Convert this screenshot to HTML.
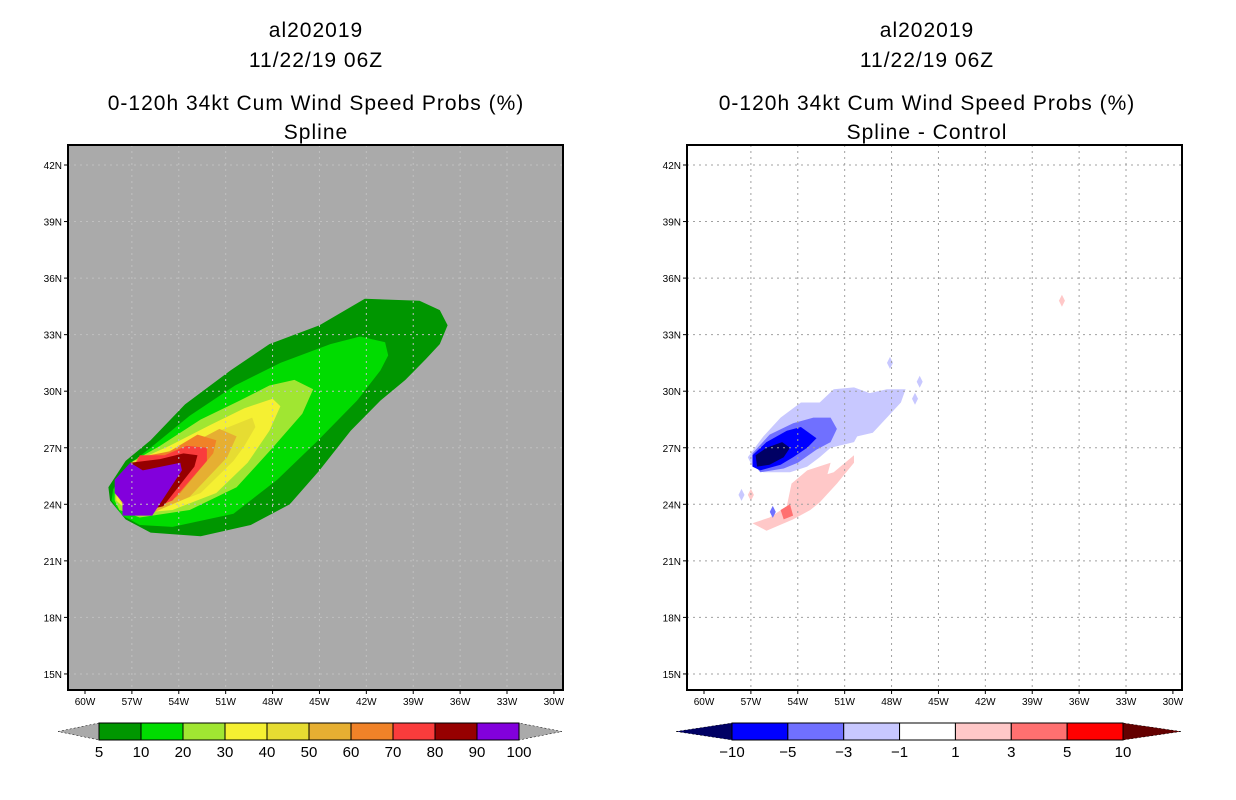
<!DOCTYPE html>
<html><head><meta charset="utf-8"><style>
html,body{margin:0;padding:0;background:#fff;width:1236px;height:800px;overflow:hidden}
svg{display:block;font-family:"Liberation Sans",sans-serif}
.t{font-size:21px;letter-spacing:1px;text-anchor:middle;fill:#000}
.tk{font-size:10px;fill:#000}
.cb{font-size:15px;text-anchor:middle;fill:#000}
</style></head><body>
<svg id="s" width="1236" height="800" viewBox="0 0 1236 800" xmlns="http://www.w3.org/2000/svg">
<g>
<text class="t" x="316" y="37">al202019</text>
<text class="t" x="316" y="67">11/22/19 06Z</text>
<text class="t" x="316" y="110">0-120h 34kt Cum Wind Speed Probs (%)</text>
<text class="t" x="316" y="139">Spline</text>
</g>
<g>
<text class="t" x="927" y="37">al202019</text>
<text class="t" x="927" y="67">11/22/19 06Z</text>
<text class="t" x="927" y="110">0-120h 34kt Cum Wind Speed Probs (%)</text>
<text class="t" x="927" y="139">Spline - Control</text>
</g>
</svg>
<script>
const lonTicks=[-60,-57,-54,-51,-48,-45,-42,-39,-36,-33,-30];
const latTicks=[42,39,36,33,30,27,24,21,18,15];
const probLevels=[5,10,20,30,40,50,60,70,80,90,100];
const probColors=["#009600","#00dc00","#a0e632","#f5f032","#e6dc32","#e6af32","#f08228","#fa3c3c","#960000","#8200dc"];
const diffLevels=[-10,-5,-3,-1,1,3,5,10];
const diffColors=["#000064","#0000ff","#7070ff","#c8c8ff","#ffffff","#ffc8c8","#ff7070","#ff0000","#640000"];
const prob5=[[-58.5,24.9],[-57.4,26.3],[-55.8,27.4],[-53.6,29.3],[-50.7,31.1],[-48.2,32.5],[-45.0,33.5],[-42.1,34.9],[-38.6,34.8],[-37.3,34.3],[-36.8,33.5],[-37.3,32.5],[-38.2,31.7],[-39.5,30.6],[-41.1,29.5],[-43.0,27.9],[-45.0,25.8],[-46.9,24.0],[-49.4,22.9],[-52.6,22.3],[-55.8,22.5],[-57.4,23.2],[-58.4,24.2]];
const prob10=[[-58.2,24.8],[-57.2,26.1],[-55.8,27.0],[-53.3,28.7],[-50.4,30.3],[-47.5,31.5],[-44.3,32.5],[-42.4,32.9],[-40.8,32.6],[-40.6,31.9],[-41.1,31.1],[-42.6,29.5],[-45.2,27.3],[-47.7,25.3],[-50.5,23.5],[-54.4,22.8],[-56.5,22.9],[-57.6,23.4],[-58.3,24.2]];
const prob20=[[-58.1,24.8],[-57.1,26.2],[-55.2,27.1],[-52.6,28.5],[-50.1,29.5],[-48.2,30.3],[-46.6,30.6],[-45.4,30.1],[-46.1,28.8],[-48.0,27.0],[-50.3,24.9],[-53.3,23.7],[-56.5,23.3],[-57.8,23.7],[-58.1,24.2]];
const prob30=[[-58.0,24.8],[-57.0,26.2],[-54.6,27.1],[-52.0,28.2],[-49.8,29.1],[-48.0,29.6],[-47.5,29.2],[-48.2,27.9],[-49.6,26.2],[-51.6,24.6],[-54.4,23.7],[-57.1,23.5],[-58.0,24.2]];
const prob40=[[-57.8,24.8],[-56.9,26.3],[-53.9,27.0],[-51.4,27.9],[-49.3,28.6],[-49.1,28.1],[-49.8,27.1],[-50.5,26.3],[-52.6,24.6],[-55.4,23.7],[-57.2,23.6],[-57.8,24.2]];
const prob50=[[-57.7,24.8],[-56.7,26.3],[-53.9,26.9],[-51.4,28.0],[-50.3,27.6],[-50.9,26.5],[-53.3,24.4],[-55.8,23.5],[-57.4,23.7],[-57.7,24.2]];
const prob60=[[-57.6,24.8],[-56.6,26.5],[-54.6,26.8],[-52.8,27.7],[-51.6,27.4],[-51.8,26.7],[-54.1,24.4],[-56.0,23.6],[-57.5,23.8],[-57.6,24.2]];
const prob70=[[-57.4,24.8],[-56.5,26.6],[-54.9,26.6],[-53.5,27.1],[-52.2,27.0],[-52.2,26.3],[-54.4,24.2],[-56.2,23.6],[-57.4,23.9],[-57.4,24.2]];
const prob80=[[-57.1,26.2],[-55.2,26.4],[-53.7,26.7],[-52.8,26.6],[-53.0,26.0],[-55.0,23.9],[-56.5,23.6],[-57.3,24.2]];
const prob90=[[-58.1,25.3],[-57.1,26.2],[-56.3,25.8],[-53.9,26.2],[-53.8,25.8],[-55.7,23.4],[-57.6,23.4],[-57.6,24.1],[-58.1,24.6]];
const diffM1=[[-57.2,26.5],[-56.2,27.6],[-55.1,28.6],[-53.8,29.4],[-52.6,29.4],[-51.7,30.1],[-50.4,30.2],[-49.4,29.9],[-48.3,30.1],[-47.1,30.1],[-47.4,29.4],[-48.3,28.6],[-49.2,27.8],[-50.2,27.6],[-50.4,27.3],[-51.9,27.0],[-52.6,26.5],[-53.4,26.0],[-54.5,25.7],[-56.2,25.7],[-56.9,26.0]];
const diffM3=[[-56.9,26.7],[-55.8,27.7],[-54.3,28.3],[-53.0,28.6],[-51.9,28.6],[-51.5,28.0],[-51.9,27.3],[-52.8,26.9],[-54.0,26.2],[-54.9,25.9],[-56.4,25.7],[-56.9,26.2]];
const diffM5=[[-56.9,26.6],[-56.0,27.3],[-54.7,27.9],[-53.8,28.1],[-52.8,27.5],[-53.4,27.0],[-54.3,26.5],[-55.1,26.1],[-56.4,25.8],[-56.9,26.0]];
const diffM10=[[-56.7,26.6],[-56.0,27.0],[-55.0,27.3],[-54.5,27.0],[-54.9,26.5],[-55.8,26.1],[-56.6,26.0]];
const diffP1=[[-56.9,23.0],[-55.8,23.3],[-54.7,23.9],[-54.4,25.1],[-53.4,25.8],[-51.9,26.2],[-52.1,25.6],[-51.7,25.7],[-50.4,26.6],[-50.4,26.2],[-51.5,25.1],[-52.6,24.1],[-53.2,23.7],[-54.3,23.2],[-56.0,22.6]];
const diffP3=[[-55.1,23.7],[-54.5,24.0],[-54.3,23.4],[-54.9,23.2]];
const diffDotsLon=[-57.6,-55.6,-57.0,-46.2,-46.5,-48.1,-37.1];
const diffDotsLat=[24.5,23.6,24.5,30.5,29.6,31.5,34.8];
const diffDotsCol=[3,2,5,3,3,3,5];

const NS="http://www.w3.org/2000/svg";
const svg=document.getElementById('s');
function mk(tag,attrs,parent){const e=document.createElementNS(NS,tag);for(const k in attrs)e.setAttribute(k,attrs[k]);(parent||svg).appendChild(e);return e;}
function panel(x0,name){
  const L={x0:x0,x1:x0+495,y0:145,y1:690};
  L.xs=lon=>x0+17+(lon+60)*15.63;
  L.ys=lat=>165+(42-lat)*18.85;
  const g=mk('g',{});
  
  
  L.g=g;return L;
}
function poly(L,pts,col,name){
  const p=mk('polygon',{points:pts.map(q=>L.xs(q[0]).toFixed(1)+','+L.ys(q[1]).toFixed(1)).join(' '),fill:col},L.g);
  
  
}
function axes(L,bgGrid){
  const grid=mk('g',{stroke:bgGrid,'stroke-width':1,'stroke-dasharray':'2,4'},L.g);
  
  
  lonTicks.forEach(v=>{if(v>-60&&v<-30)mk('line',{x1:L.xs(v),x2:L.xs(v),y1:L.y0,y2:L.y1},grid);});
  latTicks.forEach(v=>mk('line',{x1:L.x0,x2:L.x1,y1:L.ys(v),y2:L.ys(v)},grid));
  const fr=mk('rect',{x:L.x0,y:L.y0,width:495,height:545,fill:'none',stroke:'#000','stroke-width':2},L.g);
  
  
  lonTicks.forEach(v=>{
    mk('line',{x1:L.xs(v),x2:L.xs(v),y1:L.y1,y2:L.y1+4,stroke:'#000'},L.g);
    const t=mk('text',{x:L.xs(v),y:L.y1+15,class:'tk','text-anchor':'middle'},L.g);
    t.textContent=(-v)+'W';
    
    
  });
  latTicks.forEach(v=>{
    mk('line',{x1:L.x0-4,x2:L.x0,y1:L.ys(v),y2:L.ys(v),stroke:'#000'},L.g);
    const t=mk('text',{x:L.x0-6,y:L.ys(v)+4,class:'tk','text-anchor':'end'},L.g);
    t.textContent=v+'N';
    
    
  });
}
// left
const A=panel(68,'left-map-panel');
const bg=mk('rect',{x:68,y:145,width:495,height:545,fill:'#aaaaaa'},A.g);


[prob5,prob10,prob20,prob30,prob40,prob50,prob60,prob70,prob80,prob90].forEach((p,i)=>poly(A,p,probColors[i],'contour-'+probLevels[i]));
axes(A,'#c0c0c0');
// right
const B=panel(687,'right-map-panel');
[diffM1,diffM3,diffM5,diffM10,diffP1,diffP3].forEach((p,i)=>{
  const c=[3,2,1,0,5,6][i];
  poly(B,p,diffColors[c],'diff-contour-'+i);
});
diffDotsLon.forEach((lo,i)=>{
  const la=diffDotsLat[i],x=B.xs(lo),y=B.ys(la);
  const d=mk('polygon',{points:`${x},${y-6} ${x+3},${y} ${x},${y+6} ${x-3},${y}`,fill:diffColors[diffDotsCol[i]]},B.g);
  
  
});
axes(B,'#a0a0a0');
// colorbars
function colorbar(name,levels,cols,xl,bx0,bx1,xr){
  const g=mk('g',{});
  
  
  const y0=723,y1=740,n=levels.length-(cols.length===levels.length+1?0:1);
  const inner=cols.length===levels.length+1?cols.slice(1,-1):cols;
  const lcol=cols.length===levels.length+1?cols[0]:'#aaaaaa';
  const rcol=cols.length===levels.length+1?cols[cols.length-1]:'#aaaaaa';
  mk('polygon',{points:`${xl},${(y0+y1)/2} ${bx0},${y0} ${bx0},${y1}`,fill:lcol,stroke:'#000','stroke-width':0.5,'stroke-dasharray':'2,2'},g);
  mk('polygon',{points:`${xr},${(y0+y1)/2} ${bx1},${y0} ${bx1},${y1}`,fill:rcol,stroke:'#000','stroke-width':0.5,'stroke-dasharray':'2,2'},g);
  const w=(bx1-bx0)/inner.length;
  inner.forEach((c,i)=>{
    const r=mk('rect',{x:bx0+i*w,y:y0,width:w,height:y1-y0,fill:c,stroke:'#000','stroke-width':1},g);
    
    
  });
  levels.forEach((v,i)=>{
    const t=mk('text',{x:bx0+i*w,y:757,class:'cb'},g);
    t.textContent=v<0?'\u2212'+(-v):v;
    
    
  });
}
colorbar('left-colorbar',probLevels,probColors,58,99,519,562);
colorbar('right-colorbar',diffLevels,diffColors,676,732,1123,1181);
</script>
</body></html>
